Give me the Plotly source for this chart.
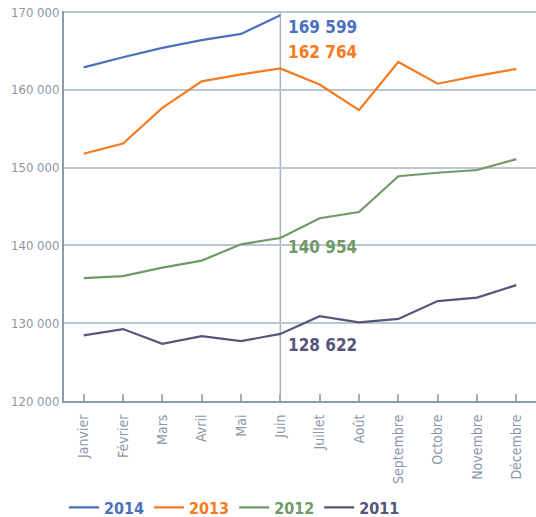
import plotly.graph_objects as go

months = ["Janvier", "Février", "Mars", "Avril", "Mai", "Juin", "Juillet", "Août",
          "Septembre", "Octobre", "Novembre", "Décembre"]
y2014 = [162900, 164200, 165400, 166400, 167200, 169599]
y2013 = [151800, 153100, 157700, 161100, 162000, 162764, 160700, 157400, 163600, 160800, 161800, 162700]
y2012 = [135800, 136050, 137150, 138050, 140150, 140954, 143500, 144300, 148900, 149350, 149700, 151100]
y2011 = [128450, 129250, 127350, 128350, 127700, 128622, 130900, 130100, 130550, 132850, 133300, 134900]
yticks = [120000, 130000, 140000, 150000, 160000, 170000]
ytick_text = ["120 000", "130 000", "140 000", "150 000", "160 000", "170 000"]
labels = ["169 599", "162 764", "140 954", "128 622"]

c2014, c2013, c2012, c2011 = "#4b70bd", "#f47b20", "#6f9a68", "#55567a"
gray = "#8c96a5"
FONT = "DejaVu Sans Condensed, sans-serif"

fig = go.Figure()
for name, ys, col in [("2014", y2014, c2014), ("2013", y2013, c2013),
                      ("2012", y2012, c2012), ("2011", y2011, c2011)]:
    fig.add_trace(go.Scatter(
        x=months[:len(ys)], y=ys, mode="lines",
        line=dict(color=col, width=2.2),
        name=f"<b><span style='color:{col}'>{name}</span></b>"))

fig.add_shape(type="line", xref="x", yref="paper", x0=5, x1=5, y0=0, y1=1,
              line=dict(color="#a9b4c1", width=1.5), layer="below")

ann = [(y2014[5], labels[0], c2014, -12), (y2013[5], labels[1], c2013, 16),
       (y2012[5], labels[2], c2012, -9), (y2011[5], labels[3], c2011, -11)]
for yv, txt, col, ysh in ann:
    fig.add_annotation(x=5, y=yv, xref="x", yref="y", text=f"<b>{txt}</b>",
                       showarrow=False, xanchor="left", xshift=6, yshift=ysh,
                       font=dict(family=FONT, size=17, color=col))

fig.update_layout(
    width=536, height=517,
    margin=dict(l=64, r=0, t=11, b=115.5, autoexpand=False),
    paper_bgcolor="white", plot_bgcolor="white",
    font=dict(family=FONT, color=gray, size=14),
    showlegend=True,
    legend=dict(orientation="h", x=0.0, xanchor="left", y=-0.273, yanchor="middle",
                font=dict(family=FONT, size=16), itemwidth=30, tracegroupgap=0),
    xaxis=dict(type="category", categoryorder="array", categoryarray=months,
               range=[-0.5, 11.5], tickangle=-90, showgrid=False, automargin=False,
               showline=True, linecolor="#8f99a8", linewidth=2,
               ticks="inside", ticklen=7, tickcolor="#a4aebb", tickwidth=1.5,
               ticklabelstandoff=6, ticklabeloverflow="allow",
               tickfont=dict(family=FONT, size=14, color=gray)),
    yaxis=dict(range=[120000, 170150], tickvals=yticks, ticktext=ytick_text,
               showgrid=True, gridcolor="#bcc7d2", gridwidth=1.5, automargin=False,
               showline=True, linecolor="#8f99a8", linewidth=2,
               ticks="", zeroline=False, ticklabeloverflow="allow",
               tickfont=dict(family=FONT, size=13, color=gray)),
)

fig.write_html("out.html", config={"displayModeBar": False},
               post_script="document.body.style.margin='0';")
